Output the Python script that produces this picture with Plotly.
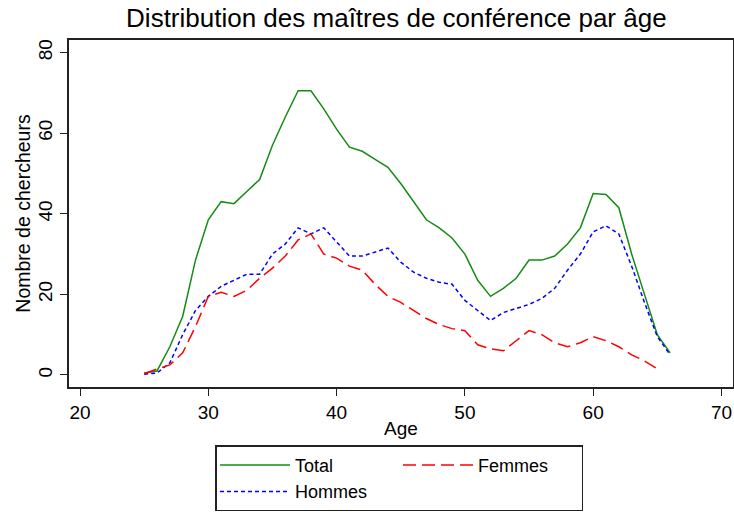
import plotly.graph_objects as go

# age en années
ages = [25, 26, 27, 28, 29, 30, 31, 32, 33, 34, 35, 36, 37, 38, 39, 40, 41, 42, 43, 44, 45,
        46, 47, 48, 49, 50, 51, 52, 53, 54, 55, 56, 57, 58, 59, 60, 61, 62, 63, 64, 65, 66]

total = [0.5, 1, 7, 14.5, 28.5, 38.5, 43, 42.5, 45.5, 48.5, 57, 64, 70.5, 70.5, 66, 61, 56.5,
         55.5, 53.5, 51.5, 47.5, 43, 38.5, 36.5, 34, 30, 23.5, 19.5, 21.5, 24, 28.5, 28.5, 29.5,
         32.5, 36.5, 45, 44.8, 41.5, 30, 20, 10, 5.5]

hommes = [0.2, 0.5, 3, 10, 16, 19.5, 22, 23.5, 25, 25, 30, 32.5, 36.5, 35, 36.5, 33, 29.5,
          29.5, 30.5, 31.5, 28, 25.5, 24, 23, 22.5, 18.5, 16, 13.5, 15.5, 16.5, 17.5, 19, 21.5,
          26, 30, 35.5, 37, 35, 27, 18, 9.5, 5]

femmes = [0.3, 1.5, 2.5, 5.5, 12, 19.5, 20.5, 19.5, 21, 24, 26.5, 29.5, 33.5, 35, 30, 29, 27,
          26, 22.5, 19.5, 18, 16, 14, 12.5, 11.5, 11, 7.5, 6.5, 6, 8.5, 11, 10, 8, 7, 8, 9.5,
          8.5, 7, 5, 3.5, 1.5, None]

x_ticks = [20, 30, 40, 50, 60, 70]
y_ticks = [0, 20, 40, 60, 80]

FONT = "Liberation Sans, Arial, sans-serif"

fig = go.Figure()
fig.add_trace(go.Scatter(x=ages, y=total, mode="lines", name="Total", legendgroup="a",
                         line=dict(color="rgb(20,140,20)", width=1.5)))
fig.add_trace(go.Scatter(x=ages, y=hommes, mode="lines", name="Hommes", legendgroup="a",
                         line=dict(color="rgb(0,0,255)", width=1.5, dash="4px,3px")))
fig.add_trace(go.Scatter(x=ages, y=femmes, mode="lines", name="Femmes", legendgroup="b",
                         line=dict(color="rgb(255,0,0)", width=1.5, dash="13px,6px"),
                         connectgaps=False))

fig.update_layout(
    width=734, height=514,
    margin=dict(l=69, r=1, t=40, b=127, autoexpand=False),
    paper_bgcolor="white", plot_bgcolor="white",
    font=dict(family=FONT, size=19, color="black"),
    title=dict(text="Distribution des maîtres de conférence par âge",
               font=dict(size=26, color="black"),
               x=0.54, xref="container", xanchor="center",
               y=0.965, yref="container", yanchor="middle"),
    xaxis=dict(range=[19.14, 70.9], tickvals=x_ticks, ticks="outside", ticklen=7,
               tickcolor="#222", showgrid=False, zeroline=False, automargin=False,
               showline=True, mirror=True, linecolor="#222", linewidth=2,
               title=dict(text="Age", standoff=0, font=dict(size=19))),
    yaxis=dict(range=[-2.98, 83.1], tickvals=y_ticks, ticks="outside", ticklen=7,
               tickcolor="#222", tickangle=-90, showgrid=False, zeroline=False,
               automargin=False,
               showline=True, mirror=True, linecolor="#222", linewidth=2,
               title=dict(text="Nombre de chercheurs", standoff=0, font=dict(size=19.5))),
    legend=dict(orientation="h", traceorder="grouped", x=0.497, xanchor="center",
                y=-0.168, yanchor="top", bordercolor="#222", borderwidth=1.5,
                itemwidth=70, entrywidth=98, font=dict(size=18)),
)

fig.write_html("out.html", config={"displayModeBar": False},
               post_script="document.body.style.margin='0';")
